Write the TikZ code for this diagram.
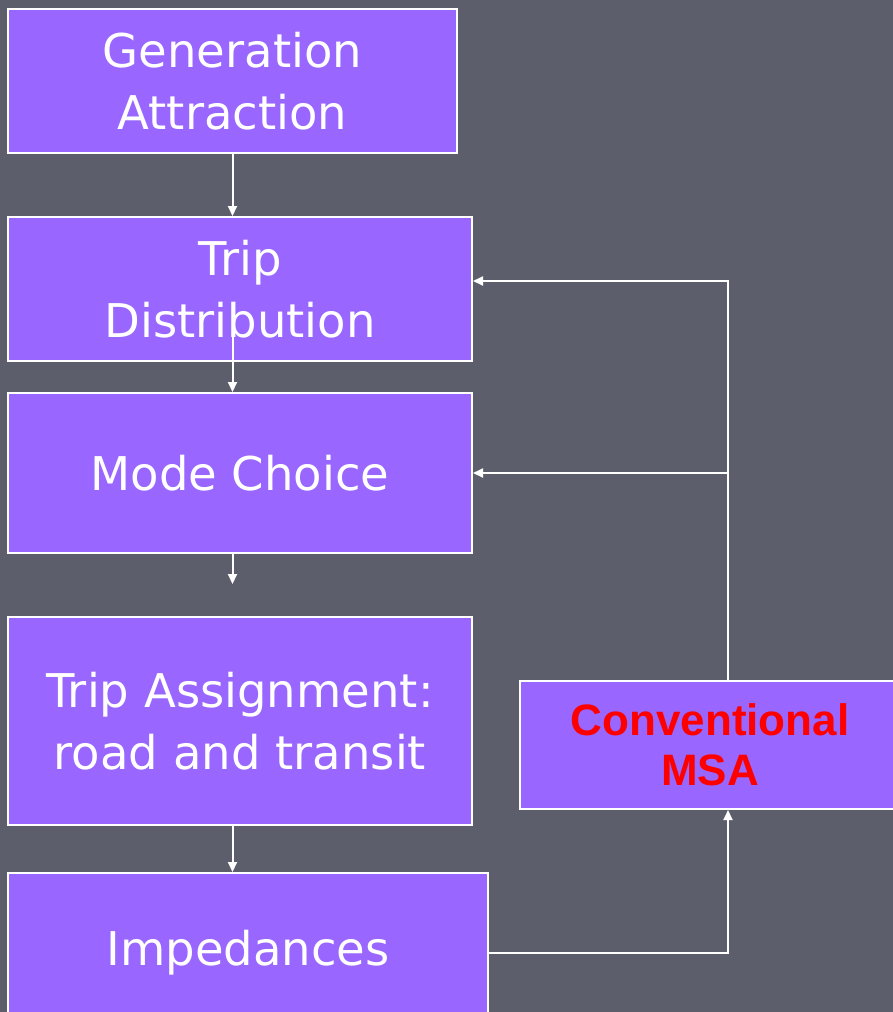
\documentclass[tikz,border=0pt]{standalone}
\usepackage{fontspec}
\setmainfont{DejaVu Sans}
\newfontfamily\msafont{Liberation Sans}
\usetikzlibrary{arrows.meta,calc}
\definecolor{bgc}{RGB}{92,94,108}
\definecolor{boxc}{RGB}{153,102,255}
\tikzset{
  box/.style={draw=white,line width=2pt,fill=boxc,text=white,align=center,inner sep=0pt,
    font=\fontsize{46.5}{62}\selectfont},
  msabox/.style={box,text=red,font=\msafont\bfseries\fontsize{44}{50}\selectfont},
  arr/.style={draw=white,line width=2pt,-{Triangle[width=9pt,length=10pt]}},
  ln/.style={draw=white,line width=2pt}
}
\begin{document}
\begin{tikzpicture}[x=1pt,y=-1pt]
\useasboundingbox[fill=bgc] (0,0) rectangle (893,1012);
\node[box,minimum width=449pt,minimum height=144pt] (b1) at (232.5,81) {Generation\\Attraction};
\node[box,minimum width=464pt,minimum height=144pt] (b2) at (240,289) {Trip\\Distribution};
\node[box,minimum width=464pt,minimum height=160pt] (b3) at (240,473) {Mode Choice};
\node[box,minimum width=464pt,minimum height=208pt] (b4) at (240,721) {Trip Assignment:\\road and transit};
\node[box,minimum width=480pt,minimum height=160pt] (b5) at (248,953) {Impedances};
\node[msabox,minimum width=380pt,minimum height=128pt] (b6) at (710,745) {Conventional\\MSA};
\coordinate (fx) at (728,0);
\coordinate (ax) at (232.5,0);
\coordinate (d0) at (232.5,335);
\coordinate (m1) at (232.5,584);
\coordinate (j) at (728,473);
\draw[arr] (b1.south) -- (b2.north -| ax);
\draw[arr] (d0) -- (b3.north -| ax);
\draw[arr] (b3.south -| ax) -- (m1);
\draw[arr] (b4.south -| ax) -- (b5.north -| ax);
\draw[arr] (b5.east) -| (b6.south -| fx);
\draw[arr] (b6.north -| fx) |- ([yshift=8pt]b2.east);
\draw[arr] (j) -- (b3.east);
\end{tikzpicture}
\end{document}
